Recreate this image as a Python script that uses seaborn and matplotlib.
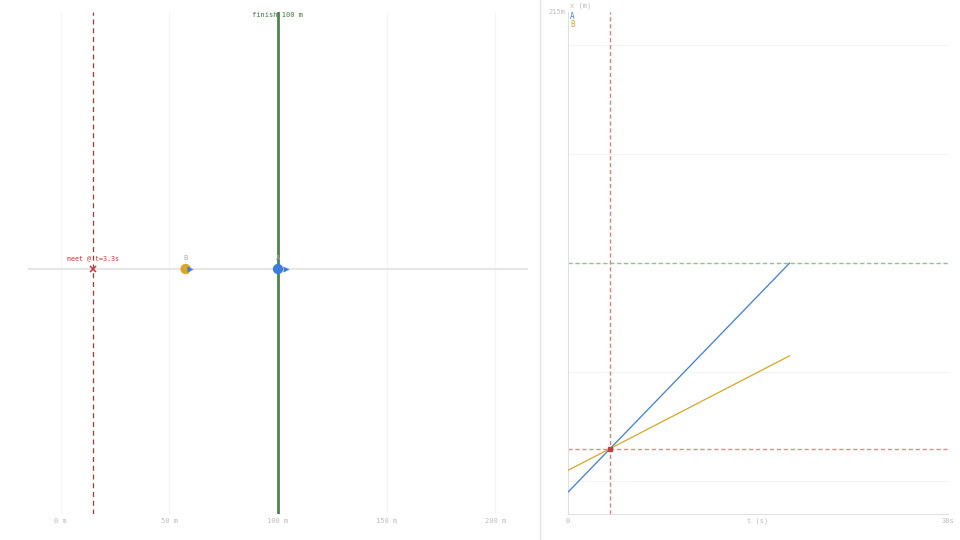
import matplotlib
matplotlib.use("Agg")
import matplotlib.pyplot as plt
from matplotlib.lines import Line2D
import seaborn as sns
import pandas as pd

# runners: start position (m), speed (m/s)
runners = ["A", "B"]
start_x = [-5, 5]
speed = [6, 3]
# position curves (t in s, x in m)
t_pts = [0, 17.5]
a_pts = [-5, 100]
b_pts = [5, 57.5]
# current snapshot at t = 17.5 s
now_x = [100, 57.5]
finish = 100
meet_t = 3.33
meet_x = 15
track_ticks = [0, 50, 100, 150, 200]

colors = {"A": "#3b7ddd", "B": "#dba526"}
red = "#cc3333"
green = "#4a864a"
grey = "#bdbdbd"

sns.set_style("white")
plt.rcParams["font.family"] = ["DejaVu Sans Mono", "DejaVu Sans"]
plt.rcParams["font.size"] = 5

fig = plt.figure(figsize=(9.6, 5.4), dpi=100)
ax = fig.add_axes([28 / 960, 26 / 540, 500 / 960, 502 / 540])
ax2 = fig.add_axes([568 / 960, 26 / 540, 380 / 960, 502 / 540])
fig.add_artist(Line2D([540 / 960, 540 / 960], [0, 1], color="#e4e4e4", lw=1))

# ---- left: track view
track_y = 0.488
ax.set_xlim(-15, 215)
ax.set_ylim(0, 1)
for s in ax.spines.values():
    s.set_visible(False)
for g in track_ticks:
    ax.axvline(g, color="#f5f5f5", lw=0.8, zorder=0)
ax.axhline(track_y, color="#e6e6e6", lw=1.5, zorder=1)
ax.axvline(meet_x, color="#a83838", lw=0.9, ls=(0, (4, 3)), zorder=2)
ax.axvline(finish, color=green, lw=2, zorder=2)
ax.text(finish, 0.994, f"finish {finish} m", color="#3f7a3f", ha="center", va="center", fontsize=5)

snap = pd.DataFrame({"runner": runners, "x": now_x, "y": [track_y] * 2})
sns.scatterplot(data=snap, x="x", y="y", hue="runner", palette=colors, s=55,
                edgecolor="none", legend=False, ax=ax, zorder=4)
for r, x, v in zip(runners, now_x, speed):
    ax.plot(x + 0.6 * v, track_y, marker=">", ms=4, color=colors["A"], mec="none", zorder=5)
    ax.text(x, track_y + 0.021, r, color="#aaaaaa", ha="center", va="center", fontsize=5)
ax.plot(meet_x, track_y, marker="x", ms=5, mew=1.1, color=red, zorder=5)
ax.text(meet_x, track_y + 0.021, f"meet @ t={meet_t:.1f}s", color=red, ha="center", va="center", fontsize=4.8)
ax.set_xticks(track_ticks)
ax.set_xticklabels([f"{g} m" for g in track_ticks])
ax.set_yticks([])
ax.tick_params(axis="x", length=0, pad=3, colors=grey, labelsize=5)
ax.set_xlabel("")
ax.set_ylabel("")

# ---- right: x(t) chart
ax2.set_xlim(0, 30)
ax2.set_ylim(-15, 215)
for g in [0, 50, 100, 150, 200]:
    ax2.axhline(g, color="#f4f4f4", lw=0.8, zorder=0)
curves = pd.DataFrame({
    "t": t_pts + t_pts,
    "x": a_pts + b_pts,
    "runner": ["A"] * len(t_pts) + ["B"] * len(t_pts),
})
sns.lineplot(data=curves, x="t", y="x", hue="runner", palette=colors, lw=0.9,
             legend=False, ax=ax2, zorder=3)
ax2.axhline(finish, color="#93c193", lw=1, ls=(0, (3, 2)), zorder=2)
ax2.axhline(meet_x, color="#e08a8a", lw=1, ls=(0, (3, 2)), zorder=2)
ax2.axvline(meet_t, color="#d98080", lw=1, ls=(0, (3, 2)), zorder=2)
ax2.plot(meet_t, meet_x, marker="s", ms=3, color="#c04040", zorder=5)
for s in ["top", "right"]:
    ax2.spines[s].set_visible(False)
for s in ["left", "bottom"]:
    ax2.spines[s].set_color("#e0e0e0")
    ax2.spines[s].set_linewidth(0.8)
ax2.set_xticks([0, 30])
ax2.set_xticklabels(["0", "30s"])
ax2.set_yticks([215])
ax2.set_yticklabels(["215m"])
ax2.tick_params(length=0, colors=grey, labelsize=5, pad=2)
ax2.tick_params(axis="x", pad=3)
ax2.set_xlabel("")
ax2.set_ylabel("")
ax2.text(0.5, -0.006, "t (s)", transform=ax2.transAxes, color=grey, ha="center", va="top", fontsize=5)
ax2.text(0.005, 1.012, "x (m)", transform=ax2.transAxes, color=grey, ha="left", va="center", fontsize=5)
ax2.text(0.005, 0.992, "A", transform=ax2.transAxes, color=colors["A"], ha="left", va="center", fontsize=5.5)
ax2.text(0.005, 0.976, "B", transform=ax2.transAxes, color=colors["B"], ha="left", va="center", fontsize=5.5)

fig.savefig("out.png", dpi=100)
